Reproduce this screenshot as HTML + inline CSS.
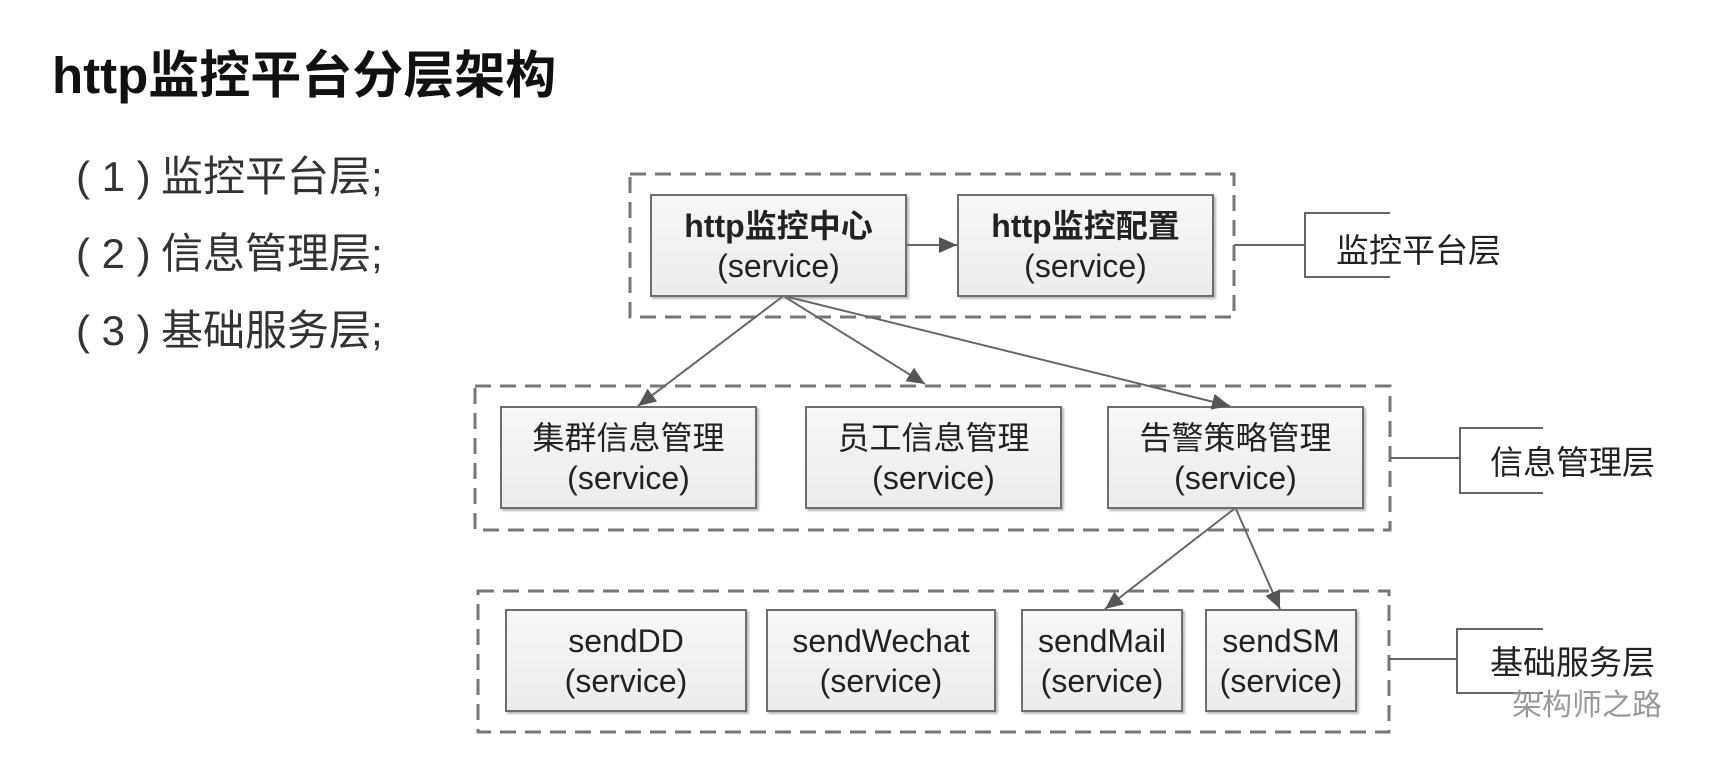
<!DOCTYPE html>
<html><head><meta charset="utf-8"><style>
body{margin:0;width:1716px;height:768px;background:#fff;overflow:hidden;position:relative;font-family:"Liberation Sans","Noto Sans CJK SC",sans-serif;}
.t{position:absolute;white-space:nowrap;color:#222}
.b{position:absolute;background:linear-gradient(#f7f7f7,#ececec);border:2px solid #6e6e6e;box-shadow:2px 2px 2px #bbb;box-sizing:border-box;display:flex;flex-direction:column;align-items:center;justify-content:center;font-size:32px;line-height:40px;color:#222}
.l{position:absolute;font-size:42px;color:#333;white-space:nowrap;line-height:48px}
</style></head><body>
<div class="t" style="left:52px;top:34px;font-size:51px;font-weight:bold;color:#111">http监控平台分层架构</div>
<div class="l" style="left:76px;top:153px">(&nbsp;1&nbsp;)</div><div class="l" style="left:161px;top:153px">监控平台层;</div>
<div class="l" style="left:76px;top:230px">(&nbsp;2&nbsp;)</div><div class="l" style="left:161px;top:230px">信息管理层;</div>
<div class="l" style="left:76px;top:307px">(&nbsp;3&nbsp;)</div><div class="l" style="left:161px;top:307px">基础服务层;</div>

<svg width="1716" height="768" style="position:absolute;left:0;top:0">
<g stroke="#777" stroke-width="3" fill="none" stroke-dasharray="16,9">
<rect x="630" y="174" width="604" height="143"/>
<rect x="475" y="386" width="915" height="144"/>
<rect x="478" y="591" width="911" height="141"/>
</g></svg>

<div class="b" style="left:650px;top:194px;width:257px;height:103px;font-weight:bold"><div>http监控中心</div><div style="font-weight:normal">(service)</div></div>
<div class="b" style="left:957px;top:194px;width:257px;height:103px;font-weight:bold"><div>http监控配置</div><div style="font-weight:normal">(service)</div></div>

<div class="b" style="left:500px;top:406px;width:257px;height:103px"><div>集群信息管理</div><div>(service)</div></div>
<div class="b" style="left:805px;top:406px;width:257px;height:103px"><div>员工信息管理</div><div>(service)</div></div>
<div class="b" style="left:1107px;top:406px;width:257px;height:103px"><div>告警策略管理</div><div>(service)</div></div>

<div class="b" style="left:505px;top:609px;width:242px;height:103px"><div>sendDD</div><div>(service)</div></div>
<div class="b" style="left:766px;top:609px;width:230px;height:103px"><div>sendWechat</div><div>(service)</div></div>
<div class="b" style="left:1021px;top:609px;width:162px;height:103px"><div>sendMail</div><div>(service)</div></div>
<div class="b" style="left:1205px;top:609px;width:152px;height:103px"><div>sendSM</div><div>(service)</div></div>

<svg width="1716" height="768" style="position:absolute;left:0;top:0">
<defs><marker id="A" markerWidth="20" markerHeight="16" refX="18" refY="8" orient="auto" markerUnits="userSpaceOnUse"><path d="M0,0 L18,8 L0,16 z" fill="#555"/></marker></defs>
<g stroke="#666" stroke-width="2" fill="none">
<line x1="907" y1="245" x2="957" y2="245" marker-end="url(#A)"/>
<line x1="782" y1="297" x2="638" y2="406" marker-end="url(#A)"/>
<line x1="785" y1="297" x2="925" y2="384" marker-end="url(#A)"/>
<line x1="788" y1="297" x2="1230" y2="406" marker-end="url(#A)"/>
<line x1="1234" y1="509" x2="1105" y2="609" marker-end="url(#A)"/>
<line x1="1236" y1="509" x2="1280" y2="609" marker-end="url(#A)"/>
<path d="M1234 245 H1305 M1390 213 H1305 V277 H1390"/>
<path d="M1390 458 H1460 M1543 428 H1460 V493 H1543"/>
<path d="M1389 659 H1457 M1543 629 H1457 V693 H1543"/>
</g></svg>
<div class="t" style="left:1336px;top:224px;font-size:33px">监控平台层</div>
<div class="t" style="left:1490px;top:436px;font-size:33px">信息管理层</div>
<div class="t" style="left:1490px;top:636px;font-size:33px">基础服务层</div>
<div class="t" style="left:1512px;top:680px;font-size:30px;color:#999">架构师之路</div>
</body></html>
